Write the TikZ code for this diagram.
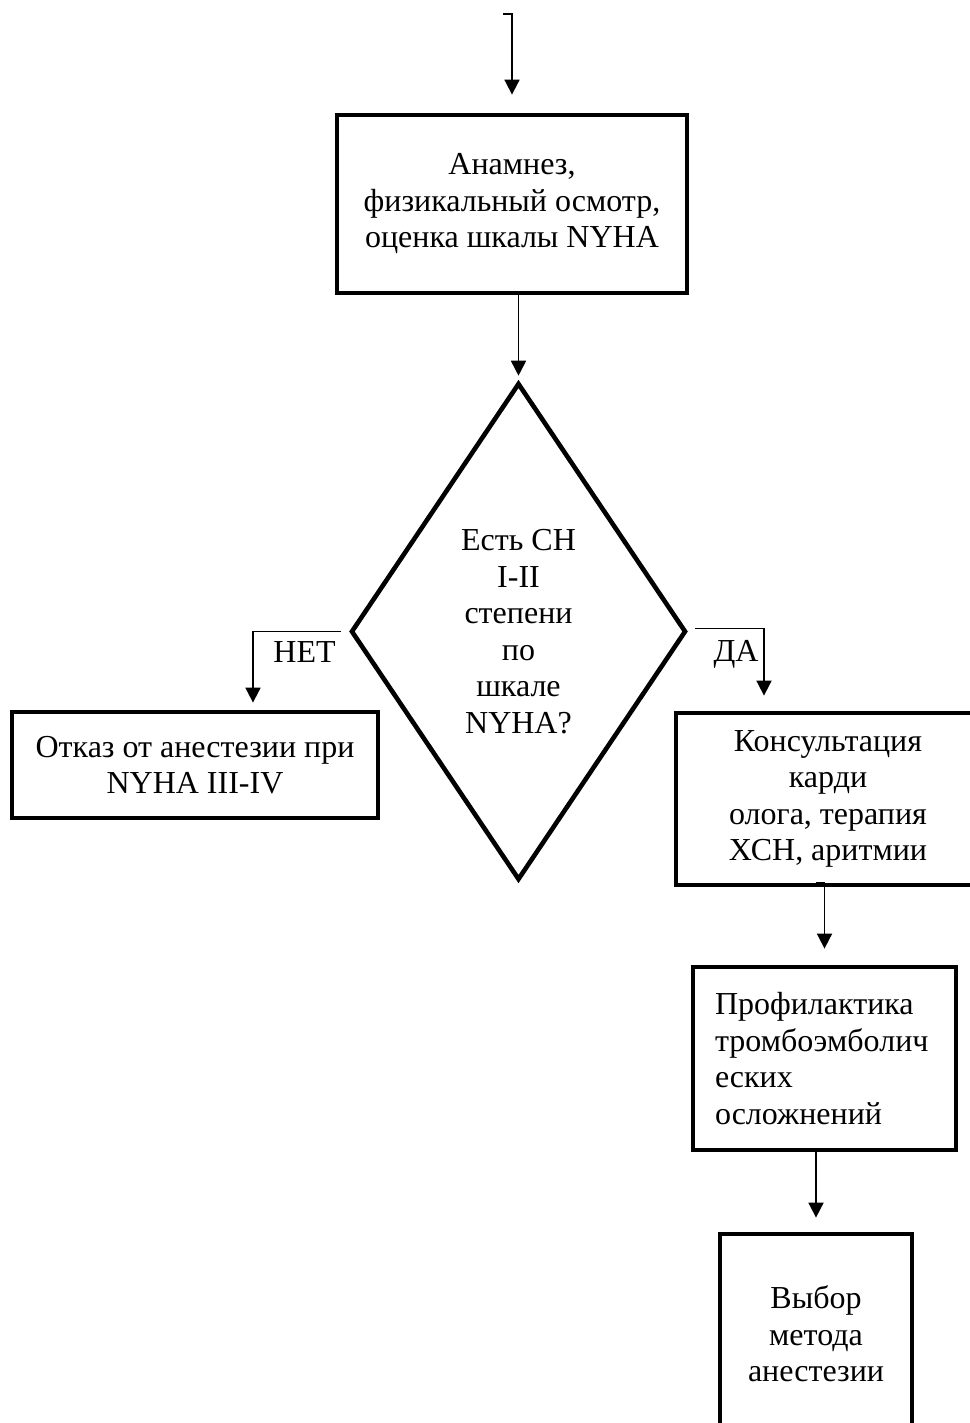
\documentclass[tikz,border=0pt]{standalone}
\usepackage{fontspec}
\setmainfont{Liberation Serif}
\usetikzlibrary{shapes.geometric}
\usetikzlibrary{positioning}
\usetikzlibrary{arrows.meta}

\begin{document}
\begin{tikzpicture}[x=1pt,y=-1pt,
	every node/.style={font=\fontsize{32}{36.5}\selectfont},
	block/.style={rectangle,draw,line width=4.8pt,align=center,inner sep=6pt},
	decision/.style={diamond,draw,line width=4.6pt,align=center,inner sep=0pt,aspect=0.67},
	link/.style={line width=1.8pt,-{Triangle[width=15pt,length=15pt]}}]
	\useasboundingbox (0,0) rectangle (969,1423);
	% boxes
	\node [block,minimum width=350pt,minimum height=178pt] (exam) at (512,204) {Анамнез,\\физикальный осмотр,\\оценка шкалы NYHA};
	\node [decision,minimum width=335pt,minimum height=497pt] (nyha) at (518.5,631.5) {Есть СН\\I-II\\степени\\по\\шкале\\NYHA?};
	\node [block,minimum width=366pt,minimum height=106pt] (refuse) at (195,765) {Отказ от анестезии при\\NYHA III-IV};
	\node [block,minimum width=304pt,minimum height=172pt] (cardio) at (828,799) {Консультация\\карди\\олога, терапия\\ХСН, аритмии};
	\node [block,align=left,text width=219pt,inner xsep=22pt,minimum height=183pt] (prophyl) at (824.5,1058.5) {Профилактика\\тромбоэмболич\\еских\\осложнений};
	\node [block,minimum width=192pt,minimum height=200pt] (choice) at (816,1334) {Выбор\\метода\\анестезии};
	% arrows
	\coordinate (entry) at (503,14);
	\draw [link,shorten >=18pt] (entry) -| (exam.north);
	\draw [link,shorten >=5pt] (exam.south -| nyha.north) -- (nyha.north);
	\draw [link,shorten >=7pt] ([xshift=-8pt]nyha.west) -| ([xshift=58pt]refuse.north)
		node [pos=0.206,below=6pt] {НЕТ};
	\draw [link,shorten >=15pt] ([xshift=7pt,yshift=3pt]nyha.east) -| ([xshift=-64pt]cardio.north)
		node [pos=0.296,below=8pt] {ДА};
	\draw [link,shorten >=16pt] ([xshift=-12pt,yshift=5pt]cardio.south) -| (prophyl.north);
	\draw [link,shorten >=14pt] (prophyl.south -| choice.north) -- (choice.north);
\end{tikzpicture}
\end{document}
